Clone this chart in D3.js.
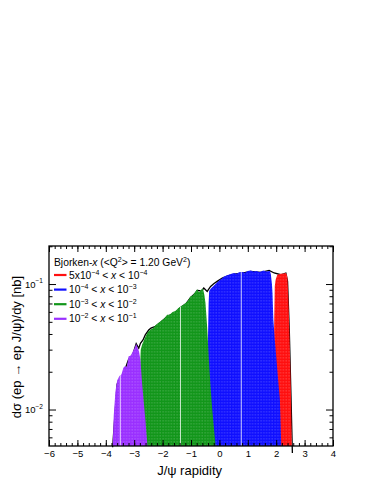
<!DOCTYPE html>
<html>
<head>
<meta charset="utf-8">
<script src="https://cdn.jsdelivr.net/npm/d3@7"></script>
<style>
body { margin: 0; background: #fff; }
svg { display: block; font-family: "Liberation Sans", Arial, sans-serif; }
</style>
</head>
<body>
<div id="chart"></div>
<script>
// ---- data ----
var seriesNames = ["5x10^-4 < x < 10^-4", "10^-4 < x < 10^-3", "10^-3 < x < 10^-2", "10^-2 < x < 10^-1"];
var seriesColors = ["#ff1010", "#1010ff", "#12961a", "#9a30ff"];

var redX = [1.90, 1.92, 1.93, 1.95, 1.98, 2.04, 2.16, 2.25, 2.34, 2.38, 2.40, 2.43, 2.46, 2.49, 2.52, 2.55];
var redY = [0.005, 0.025, 0.052, 0.096, 0.108, 0.1186, 0.121, 0.1215, 0.1225, 0.118, 0.108, 0.075, 0.046, 0.025, 0.0134, 0.005];

var blueX = [-0.45, -0.41, -0.38, -0.36, -0.30, -0.20, -0.10, 0.00, 0.10, 0.16, 0.30, 0.40, 0.51, 0.60, 0.70, 0.80, 0.90, 1.00, 1.10, 1.20, 1.30, 1.40, 1.46, 1.55, 1.65, 1.78, 1.81, 1.85, 1.87, 1.90, 1.95, 2.01, 2.07, 2.13, 2.18];
var blueY = [0.005, 0.03, 0.07, 0.088, 0.092, 0.097, 0.102, 0.107, 0.111, 0.115, 0.118, 0.120, 0.1225, 0.121, 0.124, 0.125, 0.123, 0.127, 0.1285, 0.126, 0.127, 0.125, 0.126, 0.128, 0.126, 0.127, 0.12, 0.10, 0.085, 0.052, 0.036, 0.025, 0.017, 0.012, 0.005];

var greenX = [-2.82, -2.80, -2.77, -2.72, -2.65, -2.58, -2.50, -2.42, -2.34, -2.25, -2.15, -2.05, -1.95, -1.84, -1.75, -1.65, -1.55, -1.45, -1.37, -1.28, -1.18, -1.10, -1.02, -0.94, -0.86, -0.78, -0.72, -0.66, -0.60, -0.57, -0.53, -0.49, -0.43, -0.37, -0.31, -0.25, -0.19, -0.13];
var greenY = [0.005, 0.02, 0.030, 0.033, 0.036, 0.039, 0.042, 0.0435, 0.0445, 0.047, 0.049, 0.051, 0.053, 0.0568, 0.057, 0.060, 0.061, 0.064, 0.0662, 0.068, 0.071, 0.074, 0.0796, 0.081, 0.086, 0.091, 0.086, 0.089, 0.092, 0.090, 0.082, 0.0705, 0.045, 0.0248, 0.015, 0.0099, 0.007, 0.005];

var purpleX = [-3.76, -3.72, -3.66, -3.60, -3.52, -3.45, -3.38, -3.32, -3.26, -3.20, -3.12, -3.05, -2.98, -2.93, -2.88, -2.83, -2.78, -2.72, -2.67, -2.60, -2.53];
var purpleY = [0.005, 0.009, 0.014, 0.017, 0.0185, 0.019, 0.0215, 0.0222, 0.0218, 0.0264, 0.027, 0.029, 0.031, 0.0335, 0.031, 0.029, 0.0248, 0.016, 0.0119, 0.008, 0.005];

// total (black line)
var totalX = [-3.76, -3.60, -3.45, -3.32, -3.20, -3.05, -2.93, -2.84, -2.78, -2.69, -2.61, -2.49, -2.41, -2.25, -2.05, -1.84, -1.55, -1.37, -1.18, -1.02, -0.86, -0.78, -0.70, -0.64, -0.55, -0.43, -0.31, -0.20, -0.08, 0.10, 0.30, 0.51, 0.80, 1.10, 1.46, 1.75, 1.93, 2.16, 2.34, 2.40, 2.46, 2.52, 2.57];
var totalY = [0.005, 0.016, 0.018, 0.021, 0.025, 0.0275, 0.0335, 0.0308, 0.0337, 0.0358, 0.0393, 0.043, 0.0445, 0.046, 0.050, 0.055, 0.0595, 0.065, 0.0695, 0.078, 0.084, 0.089, 0.0885, 0.0873, 0.0929, 0.0873, 0.0957, 0.1005, 0.105, 0.1117, 0.116, 0.120, 0.122, 0.126, 0.124, 0.1285, 0.1225, 0.1186, 0.1225, 0.105, 0.044, 0.013, 0.0045];

// thin white lines inside the fills
var markerX = [-3.49, -1.37, 0.77];
var markerSeries = [3, 2, 1];

var xTicks = [-6, -5, -4, -3, -2, -1, 0, 1, 2, 3, 4];
var yTicks = [0.01, 0.1];
var yTickExp = ["\u22122", "\u22121"];
var yMinor = [0.006, 0.007, 0.008, 0.009, 0.02, 0.03, 0.04, 0.05, 0.06, 0.07, 0.08, 0.09, 0.2];

// ---- layout ----
var width = 374, height = 484;
var margin = {left: 49, right: 41, top: 246, bottom: 38};
var plotW = width - margin.left - margin.right,
    plotH = height - margin.top - margin.bottom;

var svg = d3.select("#chart").append("svg")
            .attr("width", width)
            .attr("height", height);

var x = d3.scaleLinear().domain([-6, 4]).range([0, plotW]);
var y = d3.scaleLog().domain([0.00512, 0.201]).range([plotH, 0]);

var defs = svg.append("defs");
defs.append("clipPath").attr("id", "plotclip")
    .append("rect").attr("width", plotW).attr("height", plotH);

seriesColors.forEach(function(c, i) {
    var p = defs.append("pattern")
                .attr("id", "pat" + i)
                .attr("patternUnits", "userSpaceOnUse")
                .attr("width", 2.8)
                .attr("height", 3);
    p.append("rect").attr("width", 2.8).attr("height", 3).attr("fill", c);
    p.append("rect").attr("x", 1.6).attr("y", 0).attr("width", 0.7).attr("height", 1.6)
     .attr("fill", "#fff").attr("opacity", 0.3);
});

var canvas = svg.append("g")
            .attr("transform", "translate(" + margin.left + "," + margin.top + ")");

function pts(xs, ys) {
    return xs.map(function(d, i) { return {x: d, y: ys[i]}; });
}
var series = [pts(redX, redY), pts(blueX, blueY), pts(greenX, greenY), pts(purpleX, purpleY)];

var area = d3.area()
            .x(function(d) { return x(d.x); })
            .y0(plotH)
            .y1(function(d) { return y(d.y); });

// total line first, fills cover it
canvas.append("path")
        .datum(pts(totalX, totalY))
        .attr("fill", "none")
        .attr("stroke", "#000")
        .attr("stroke-width", 1.3)
        .attr("d", d3.line()
                    .x(function(d) { return x(d.x); })
                    .y(function(d) { return y(d.y); }));

var fills = canvas.append("g").attr("clip-path", "url(#plotclip)");
series.forEach(function(s, i) {
    defs.append("clipPath").attr("id", "sclip" + i)
        .append("path").attr("d", area(s));
    fills.append("path")
        .datum(s)
        .attr("fill", "url(#pat" + i + ")")
        .attr("d", area);
});
markerX.forEach(function(m, k) {
    fills.append("line")
        .attr("clip-path", "url(#sclip" + markerSeries[k] + ")")
        .attr("x1", x(m)).attr("x2", x(m))
        .attr("y1", 0).attr("y2", plotH)
        .attr("stroke", "#fff")
        .attr("stroke-opacity", 0.85)
        .attr("stroke-width", 0.9);
});

// ---- axes (ROOT style, ticks inward on all four sides) ----
var xMinorVals = d3.range(-6, 4.001, 0.2);
function styleAxis(g) {
    g.select(".domain").remove();
    g.selectAll("line").attr("stroke", "#000").attr("stroke-width", 1);
}
canvas.append("g").attr("transform", "translate(0," + plotH + ")")
        .call(d3.axisBottom(x).tickValues(xMinorVals).tickSize(-3).tickFormat(""))
        .call(styleAxis);
canvas.append("g").attr("transform", "translate(0," + plotH + ")")
        .call(d3.axisBottom(x).tickValues(xTicks).tickSize(-6).tickPadding(4)
              .tickFormat(function(d) { return d < 0 ? "\u2212" + (-d) : d; }))
        .call(styleAxis)
        .selectAll("text")
        .attr("font-size", "9.5px")
        .attr("font-family", "Liberation Sans, Arial, sans-serif")
        .attr("fill", "#000");
canvas.append("g")
        .call(d3.axisTop(x).tickValues(xMinorVals).tickSize(-3).tickFormat(""))
        .call(styleAxis);
canvas.append("g")
        .call(d3.axisTop(x).tickValues(xTicks).tickSize(-6).tickFormat(""))
        .call(styleAxis);

canvas.append("g")
        .call(d3.axisLeft(y).tickValues(yMinor).tickSize(-3.5).tickFormat(""))
        .call(styleAxis);
canvas.append("g")
        .call(d3.axisLeft(y).tickValues(yTicks).tickSize(-7).tickFormat(""))
        .call(styleAxis);
canvas.append("g").attr("transform", "translate(" + plotW + ",0)")
        .call(d3.axisRight(y).tickValues(yMinor).tickSize(-3.5).tickFormat(""))
        .call(styleAxis);
canvas.append("g").attr("transform", "translate(" + plotW + ",0)")
        .call(d3.axisRight(y).tickValues(yTicks).tickSize(-7).tickFormat(""))
        .call(styleAxis);

yTicks.forEach(function(t, i) {
    var lab = canvas.append("text")
            .attr("x", -6)
            .attr("y", y(t) + 3.5)
            .attr("text-anchor", "end")
            .attr("font-size", "9.5px")
            .attr("fill", "#000");
    lab.append("tspan").text("10");
    lab.append("tspan").attr("font-size", "6.5px").attr("dy", -4.5).text(yTickExp[i]);
});

canvas.append("rect")
        .attr("width", plotW).attr("height", plotH)
        .attr("fill", "none").attr("stroke", "#000").attr("stroke-width", 1.3);

// ---- axis titles ----
svg.append("text")
    .attr("x", margin.left + x(-1.05))
    .attr("y", 475)
    .attr("text-anchor", "middle")
    .attr("font-size", "13px")
    .attr("fill", "#000")
    .text("J/\u03c8 rapidity");

svg.append("text")
    .attr("transform", "translate(21," + 347 + ") rotate(-90)")
    .attr("text-anchor", "middle")
    .attr("font-size", "13px")
    .attr("fill", "#000")
    .text("d\u03c3 (ep \u2192 ep J/\u03c8)/dy [nb]");

// ---- legend ----
function richText(sel, parts, base) {
    var up = 0;
    parts.forEach(function(p) {
        var t = sel.append("tspan").text(p[0]);
        if (p[1] === "sup") {
            t.attr("font-size", (base * 0.68) + "px").attr("dy", -4);
            up = 4;
        } else {
            if (up) { t.attr("dy", up); up = 0; }
            if (p[1] === "it") t.attr("font-style", "italic");
        }
    });
}

var legend = svg.append("g");
richText(legend.append("text").attr("x", 54).attr("y", 265.5)
            .attr("font-size", "10.3px").attr("fill", "#000"),
    [["Bjorken-", ""], ["x", "it"], [" (<Q", ""], ["2", "sup"], ["> = 1.20 GeV", ""], ["2", "sup"], [")", ""]], 10.3);

var legendParts = [
    [["5x10", ""], ["\u22124", "sup"], [" < ", ""], ["x", "it"], [" < 10", ""], ["\u22124", "sup"]],
    [["10", ""], ["\u22124", "sup"], [" < ", ""], ["x", "it"], [" < 10", ""], ["\u22123", "sup"]],
    [["10", ""], ["\u22123", "sup"], [" < ", ""], ["x", "it"], [" < 10", ""], ["\u22122", "sup"]],
    [["10", ""], ["\u22122", "sup"], [" < ", ""], ["x", "it"], [" < 10", ""], ["\u22121", "sup"]]
];
seriesNames.forEach(function(name, i) {
    var cy = 275 + i * 14.6;
    legend.append("line")
        .attr("x1", 54).attr("x2", 66.5)
        .attr("y1", cy).attr("y2", cy)
        .attr("stroke", seriesColors[i])
        .attr("stroke-width", 2.2);
    richText(legend.append("text").attr("x", 69).attr("y", cy + 3.6)
                .attr("font-size", "10.3px").attr("fill", "#000"),
             legendParts[i], 10.3);
});
</script>
</body>
</html>
